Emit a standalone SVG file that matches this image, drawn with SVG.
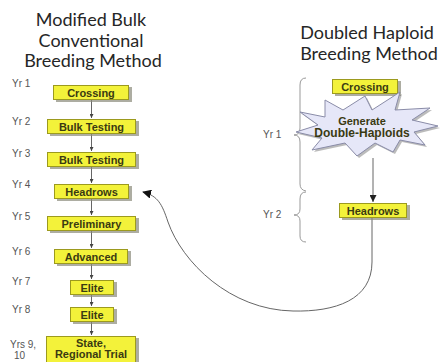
<svg xmlns="http://www.w3.org/2000/svg" width="441" height="362" viewBox="0 0 441 362">
<style>
.title{font-family:Lato,"Open Sans","Liberation Sans",sans-serif;font-size:18px;fill:#262626;text-anchor:middle}
.yr{font-family:"Liberation Sans",Arial,sans-serif;font-size:10px;fill:#555}
.box{fill:#f3f23a;stroke:#9c9a1e;stroke-width:1}
.sh{fill:#8a8a7a;opacity:0.7}
.bt{font-family:"Liberation Sans",Arial,sans-serif;font-weight:bold;font-size:11px;fill:#3a3a12;text-anchor:middle}
.ln{stroke:#666;stroke-width:1;fill:none}
.brace{stroke:#999;stroke-width:1;fill:none}
</style>
<defs>
<marker id="sm" viewBox="0 0 6 6" refX="6" refY="3" markerWidth="4" markerHeight="4" orient="auto"><path d="M0,0 L6,3 L0,6 z" fill="#444"/></marker>
<marker id="md" viewBox="0 0 6 6" refX="6" refY="3" markerWidth="7" markerHeight="7" markerUnits="userSpaceOnUse" orient="auto"><path d="M0,0 L6,3 L0,6 z" fill="#222"/></marker>
<marker id="ah" viewBox="0 0 10 10" refX="9" refY="5" markerWidth="9" markerHeight="9" markerUnits="userSpaceOnUse" orient="auto"><path d="M0,0 L10,5 L0,10 z" fill="#111"/></marker>
</defs>
<rect width="441" height="362" fill="#fff"/>
<text class="title" x="91" y="26">Modified Bulk</text>
<text class="title" x="91" y="47">Conventional</text>
<text class="title" x="93" y="67">Breeding Method</text>
<text class="title" x="367" y="39">Doubled Haploid</text>
<text class="title" x="369" y="60">Breeding Method</text>
<g id="yrs">
<text class="yr" x="12" y="87">Yr 1</text>
<text class="yr" x="12" y="125">Yr 2</text>
<text class="yr" x="12" y="157">Yr 3</text>
<text class="yr" x="12" y="188">Yr 4</text>
<text class="yr" x="12" y="220">Yr 5</text>
<text class="yr" x="12" y="255">Yr 6</text>
<text class="yr" x="12" y="285">Yr 7</text>
<text class="yr" x="12" y="313">Yr 8</text>
<text class="yr" x="10" y="348">Yrs 9,</text>
<text class="yr" x="14" y="359">10</text>
<text class="yr" x="263" y="138">Yr 1</text>
<text class="yr" x="263" y="218">Yr 2</text>
</g>
<g id="connectors">
<line class="ln" x1="91.5" y1="100" x2="91.5" y2="118" marker-end="url(#sm)"/>
<line class="ln" x1="91.5" y1="133" x2="91.5" y2="151" marker-end="url(#sm)"/>
<line class="ln" x1="91.5" y1="166" x2="91.5" y2="183" marker-end="url(#sm)"/>
<line class="ln" x1="91.5" y1="198" x2="91.5" y2="215" marker-end="url(#sm)"/>
<line class="ln" x1="91.5" y1="230" x2="91.5" y2="248" marker-end="url(#sm)"/>
<line class="ln" x1="91.5" y1="264" x2="91.5" y2="279" marker-end="url(#sm)"/>
<line class="ln" x1="91.5" y1="295" x2="91.5" y2="306" marker-end="url(#sm)"/>
<line class="ln" x1="91.5" y1="321" x2="91.5" y2="335" marker-end="url(#sm)"/>
<line class="ln" x1="373" y1="158" x2="373" y2="202" marker-end="url(#md)"/>
<path class="ln" d="M372,217 L372,262 C372,300 335,312 293,311 C230,310 182,262 168,222 C162,204 158,196 143,192" stroke="#555" marker-end="url(#ah)"/>
<path class="brace" d="M306,78 Q300,78 300,85 L300,128 Q300,135 294,135 Q300,135 300,142 L300,184 Q300,190 306,191"/>
<path class="brace" d="M306,192 Q300,192 300,199 L300,209 Q300,215 294,215 Q300,215 300,221 L300,236 Q300,242 306,242"/>
</g>
<g id="n-crossing"><rect class="sh" x="56" y="87" width="76" height="15"/><rect class="box" x="53.5" y="85.5" width="75" height="14"/><text class="bt" x="91" y="96.5">Crossing</text></g>
<g id="n-bulk1"><rect class="sh" x="50" y="121" width="89" height="15"/><rect class="box" x="47.5" y="119.5" width="88" height="14"/><text class="bt" x="91.5" y="130.5">Bulk Testing</text></g>
<g id="n-bulk2"><rect class="sh" x="50" y="154" width="89" height="15"/><rect class="box" x="47.5" y="152.5" width="88" height="14"/><text class="bt" x="91.5" y="163.5">Bulk Testing</text></g>
<g id="n-headrows"><rect class="sh" x="57" y="186" width="75" height="15"/><rect class="box" x="54.5" y="184.5" width="74" height="14"/><text class="bt" x="91.5" y="195.5">Headrows</text></g>
<g id="n-prelim"><rect class="sh" x="50" y="218" width="89" height="15"/><rect class="box" x="47.5" y="216.5" width="88" height="14"/><text class="bt" x="91.5" y="227.5">Preliminary</text></g>
<g id="n-advanced"><rect class="sh" x="57" y="251" width="74" height="15"/><rect class="box" x="54.5" y="249.5" width="73" height="14"/><text class="bt" x="91" y="260.5">Advanced</text></g>
<g id="n-elite1"><rect class="sh" x="73" y="282" width="44" height="15"/><rect class="box" x="70.5" y="280.5" width="43" height="14"/><text class="bt" x="92" y="291.5">Elite</text></g>
<g id="n-elite2"><rect class="sh" x="73" y="309" width="44" height="15"/><rect class="box" x="70.5" y="307.5" width="43" height="14"/><text class="bt" x="92" y="318.5">Elite</text></g>
<g id="n-state"><rect class="sh" x="49" y="338" width="90" height="26"/><rect class="box" x="46.5" y="336.5" width="89" height="26"/><text class="bt" x="91" y="347">State,</text><text class="bt" x="91" y="358">Regional Trial</text></g>
<g id="n-dh-crossing"><rect class="sh" x="335" y="81" width="66" height="15"/><rect class="box" x="332.5" y="79.5" width="65" height="14"/><text class="bt" x="365" y="90.5">Crossing</text></g>
<g id="n-generate">
<polygon points="300,112 325,117 325,100 343,110 365,96 372,110 400,92 395,110 430,108 412,120 438,126 414,132 425,145 400,140 393,152 375,143 357,156 345,143 312,150 322,138 296,132 318,125" fill="#777" opacity="0.5" transform="translate(2,2)"/>
<polygon points="300,112 325,117 325,100 343,110 365,96 372,110 400,92 395,110 430,108 412,120 438,126 414,132 425,145 400,140 393,152 375,143 357,156 345,143 312,150 322,138 296,132 318,125" fill="#e6e7f8" stroke="#8a8ca8" stroke-width="1"/>
<text class="bt" x="362" y="125">Generate</text>
<text class="bt" x="362" y="137" style="font-size:12px">Double-Haploids</text>
</g>
<g id="n-dh-headrows"><rect class="sh" x="342" y="205" width="68" height="15"/><rect class="box" x="339.5" y="203.5" width="67" height="14"/><text class="bt" x="373" y="214.5">Headrows</text></g>
</svg>
